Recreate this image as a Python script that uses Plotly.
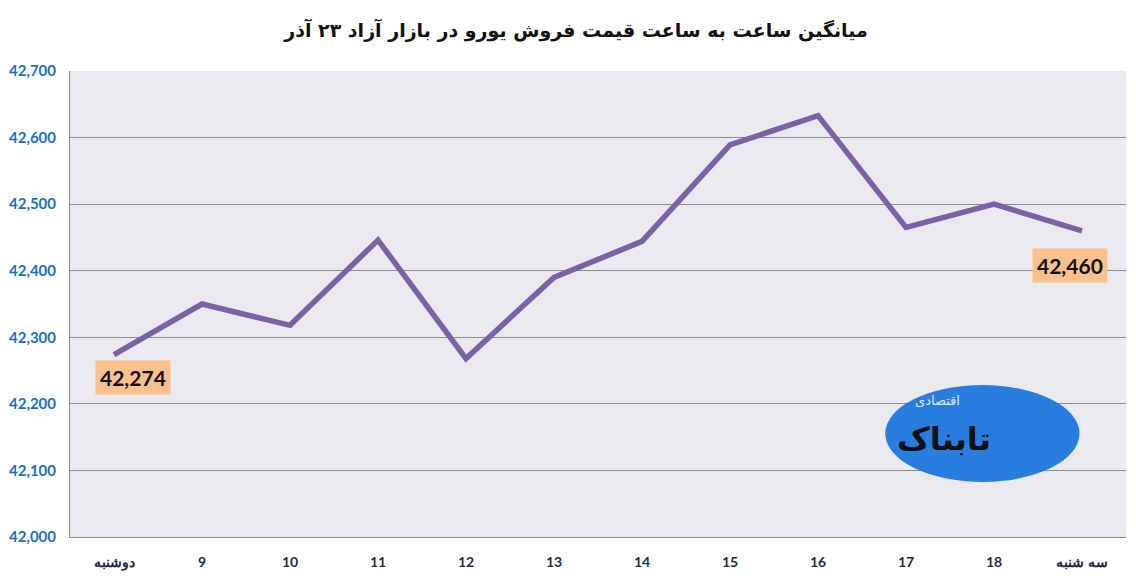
import plotly.graph_objects as go

# average hourly euro selling price, Azad market, 23 Azar
categories = ["دوشنبه", "9", "10", "11", "12", "13", "14", "15", "16", "17", "18", "سه شنبه"]
prices = [42274, 42350, 42318, 42446, 42268, 42390, 42444, 42589, 42633, 42465, 42500, 42460]
y_ticks = [42000, 42100, 42200, 42300, 42400, 42500, 42600, 42700]

title_text = "میانگین ساعت به ساعت قیمت فروش یورو در بازار آزاد ۲۳ آذر"

fig = go.Figure()

fig.add_trace(go.Scatter(
    x=categories,
    y=prices,
    mode="lines",
    line=dict(color="#7A62A6", width=5.5),
    hoverinfo="x+y",
    showlegend=False,
))

# value callouts on first and last points
label_box = dict(bgcolor="#FAC08F", font=dict(family="Lato", size=21, color="#111111", weight="bold"),
                 showarrow=False, borderpad=4)
fig.add_annotation(x=categories[0], y=prices[0], text=f"{prices[0]:,}",
                   xshift=19, yshift=-23, **label_box)
fig.add_annotation(x=categories[-1], y=prices[-1], text=f"{prices[-1]:,}",
                   xshift=-12, yshift=-35, **label_box)

# rough stand-in for the watermark logo
fig.add_shape(type="circle", xref="paper", yref="paper",
              x0=0.772, x1=0.956, y0=0.118, y1=0.326,
              fillcolor="#1E78DC", line=dict(width=0), layer="above", opacity=0.95)
fig.add_annotation(xref="paper", yref="paper", x=0.874, y=0.165,
                   text="تابناک", showarrow=False,
                   font=dict(family="DejaVu Sans", size=32, color="#111111", weight="bold"))
fig.add_annotation(xref="paper", yref="paper", x=0.845, y=0.272,
                   text="اقتصادی", showarrow=False,
                   font=dict(family="DejaVu Sans", size=13, color="#DDE7F2"))

# the page puts the figure 8px in from the top-left corner, so margins allow for that
fig.update_layout(
    width=1136,
    height=579,
    margin=dict(l=62, r=18, t=63, b=50, autoexpand=False),
    paper_bgcolor="white",
    plot_bgcolor="#EBE9EE",
    title=dict(text=title_text, x=0.5, xanchor="center", y=0.962, yanchor="middle",
               font=dict(family="DejaVu Sans", size=19, color="#111111", weight="bold")),
    xaxis=dict(
        type="category",
        range=[-0.5, len(categories) - 0.5],
        showgrid=False,
        showline=True,
        linecolor="#8C8C8C",
        linewidth=1,
        ticks="",
        tickfont=dict(family="Lato", size=14, color="#1C2B4E", weight="bold"),
        ticklabelstandoff=12,
    ),
    yaxis=dict(
        range=[42000, 42700],
        tickvals=y_ticks,
        tickformat=",",
        showgrid=True,
        gridcolor="#8C8C8C",
        gridwidth=1,
        showline=True,
        linecolor="#8C8C8C",
        linewidth=1,
        zeroline=False,
        ticks="",
        tickfont=dict(family="Lato", size=15, color="#1F6FB5", weight="bold"),
        ticklabelstandoff=10,
    ),
)

fig.write_html("out.html")
